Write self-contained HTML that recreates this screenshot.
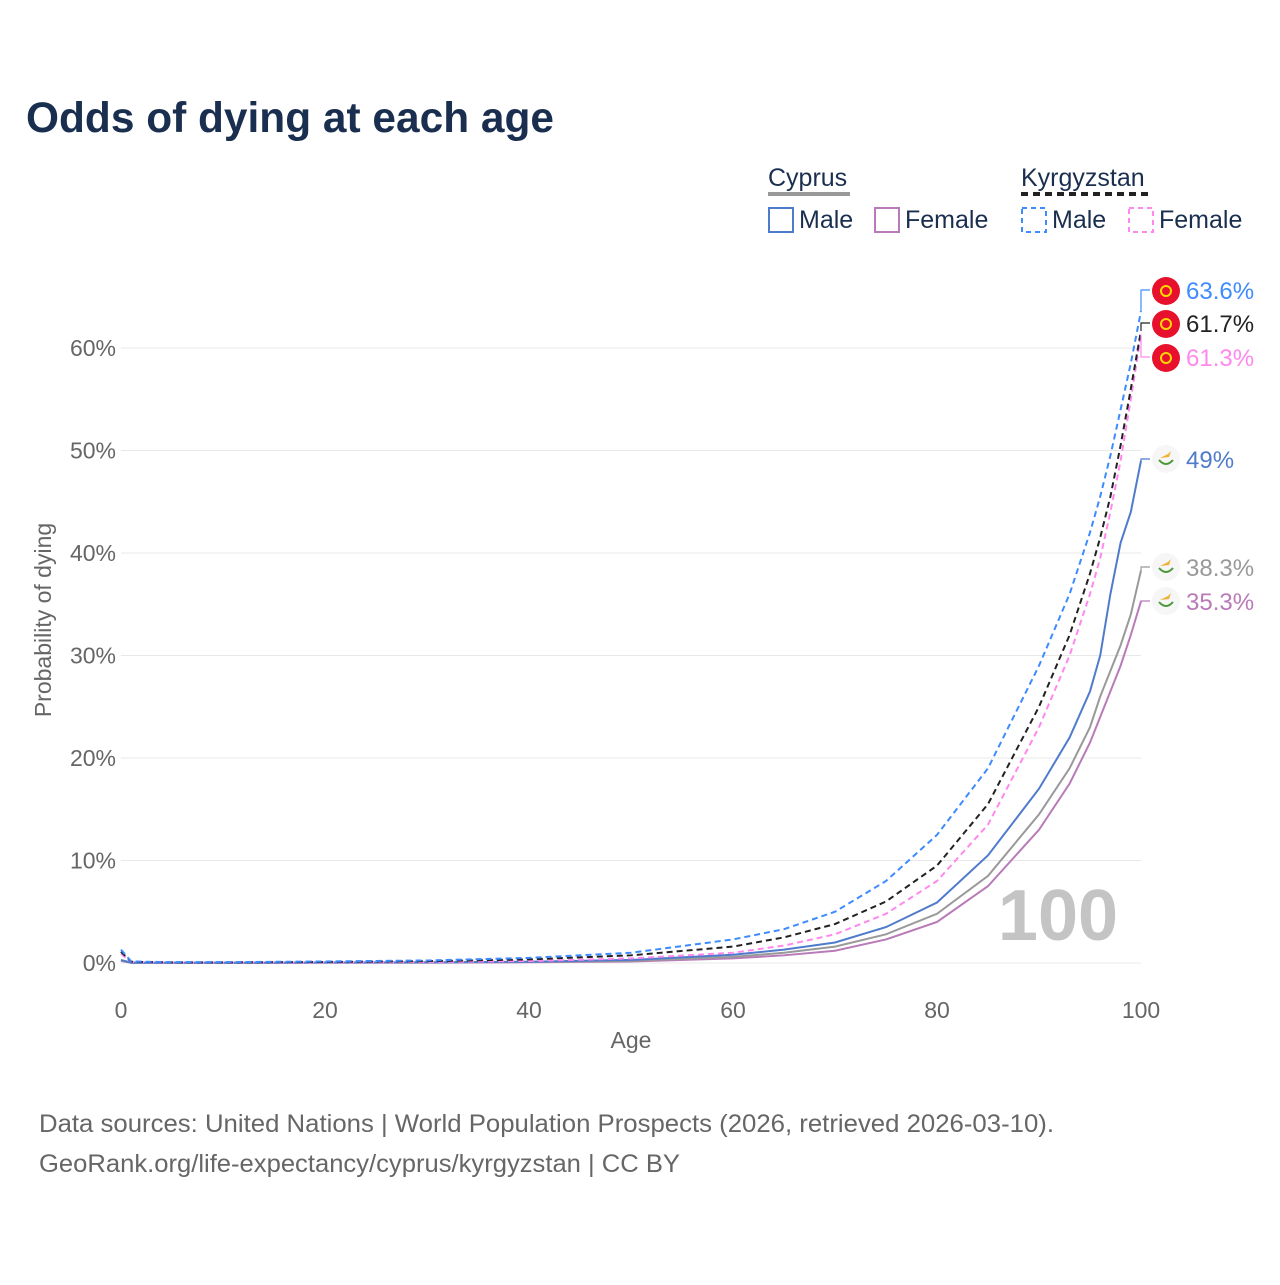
<!DOCTYPE html>
<html><head><meta charset="utf-8"><style>
body{margin:0;background:#fff;font-family:"Liberation Sans",sans-serif}
svg text{font-family:"Liberation Sans",sans-serif}
</style></head><body>
<svg width="1280" height="1280" xmlns="http://www.w3.org/2000/svg">
<text x="26" y="132" font-size="43" font-weight="bold" fill="#1a2f4f" textLength="528" lengthAdjust="spacingAndGlyphs">Odds of dying at each age</text>
<g font-size="25" fill="#1a2f4f">
<text x="768" y="186" fill="#1a2f4f">Cyprus</text>
<line x1="768" y1="194" x2="850" y2="194" stroke="#999" stroke-width="4"/>
<text x="1021" y="186" fill="#1a2f4f">Kyrgyzstan</text>
<line x1="1021" y1="194" x2="1149" y2="194" stroke="#222" stroke-width="4" stroke-dasharray="7,5"/>
<rect x="769" y="208" width="24" height="24" fill="none" stroke="#4f7bcc" stroke-width="2"/>
<text x="799" y="228" fill="#1a2f4f">Male</text>
<rect x="875" y="208" width="24" height="24" fill="none" stroke="#b87ab8" stroke-width="2"/>
<text x="905" y="228" fill="#1a2f4f">Female</text>
<rect x="1022" y="208" width="24" height="24" fill="none" stroke="#3d8bff" stroke-width="2" stroke-dasharray="5,4"/>
<text x="1052" y="228" fill="#1a2f4f">Male</text>
<rect x="1129" y="208" width="24" height="24" fill="none" stroke="#ff88ee" stroke-width="2" stroke-dasharray="5,4"/>
<text x="1159" y="228" fill="#1a2f4f">Female</text>
</g>
<g id="grid"></g>
<text x="1058" y="940" font-size="72" font-weight="bold" fill="#c4c4c4" text-anchor="middle">100</text>
<g id="series"></g>
<g id="labels"></g>
<text x="631" y="1048" font-size="23" fill="#666" text-anchor="middle">Age</text>
<text transform="translate(51,620) rotate(-90)" font-size="23" fill="#666" text-anchor="middle">Probability of dying</text>
<text x="39" y="1132" font-size="25" fill="#666" textLength="1015" lengthAdjust="spacingAndGlyphs">Data sources: United Nations | World Population Prospects (2026, retrieved 2026-03-10).</text>
<text x="39" y="1172" font-size="25" fill="#666" textLength="641" lengthAdjust="spacingAndGlyphs">GeoRank.org/life-expectancy/cyprus/kyrgyzstan | CC BY</text>
</svg>
<script>
const ages=[0,1,5,10,20,30,40,50,60,65,70,75,80,85,90,93,95,96,97,98,99,100];
const kgMale=[1.3,0.15,0.08,0.08,0.15,0.25,0.5,1.0,2.3,3.3,5,8,12.5,19,29,36,42,45.5,49.5,54,58.5,63.6];
const kgTotal=[1.1,0.12,0.06,0.06,0.1,0.18,0.35,0.75,1.6,2.5,3.8,6,9.5,15.5,25,32,38,41.5,45.5,50.5,56,61.7];
const kgFemale=[0.9,0.1,0.05,0.05,0.07,0.1,0.2,0.45,1.0,1.7,2.8,4.8,8,13.5,23,30,36,39.5,44,49,55,61.3];
const cyMale=[0.3,0.03,0.02,0.02,0.05,0.07,0.12,0.3,0.8,1.3,2,3.5,5.9,10.5,17,22,26.5,30,36,41,44,49];
const cyTotal=[0.25,0.03,0.02,0.02,0.04,0.05,0.1,0.22,0.6,1.0,1.6,2.8,4.8,8.5,14.5,19,23,26,28.5,31,34,38.3];
const cyFemale=[0.2,0.02,0.01,0.01,0.02,0.03,0.07,0.15,0.45,0.75,1.2,2.3,4,7.5,13,17.5,21.5,24,26.5,29,32,35.3];
const yTicks=[0,10,20,30,40,50,60];
const xTicks=[0,20,40,60,80,100];
const ns="http://www.w3.org/2000/svg";
const X=a=>121+a*10.2, Y=p=>963-p*10.25;
function mk(t,at,par){const e=document.createElementNS(ns,t);for(const k in at)e.setAttribute(k,at[k]);par.appendChild(e);return e;}
const g=document.getElementById('grid');
yTicks.forEach(v=>{
 const l=mk('line',{x1:121,x2:1141,y1:Y(v),y2:Y(v),stroke:'#e8e8e8','stroke-width':1},g);
 
 
 const t=mk('text',{x:116,y:Y(v)+8,'font-size':23,fill:'#666','text-anchor':'end'},g);t.textContent=v+'%';
 
 
});
xTicks.forEach(v=>{
 const t=mk('text',{x:X(v),y:1018,'font-size':23,fill:'#666','text-anchor':'middle'},g);t.textContent=v;
 
 
});
const series=[
 {d:cyFemale,c:'#b87ab8',dash:null,ly:601,lab:'35.3%',flag:'cy',n:'cyprus-female'},
 {d:cyTotal,c:'#999',dash:null,ly:567,lab:'38.3%',flag:'cy',n:'cyprus-total'},
 {d:cyMale,c:'#4f7bcc',dash:null,ly:459,lab:'49%',flag:'cy',n:'cyprus-male'},
 {d:kgFemale,c:'#ff88ee',dash:'6,4',ly:357,lab:'61.3%',flag:'kg',n:'kyrgyz-female'},
 {d:kgTotal,c:'#222',dash:'6,4',ly:323,lab:'61.7%',flag:'kg',n:'kyrgyz-total'},
 {d:kgMale,c:'#3d8bff',dash:'6,4',ly:290,lab:'63.6%',flag:'kg',n:'kyrgyz-male'}];
const sg=document.getElementById('series'),lg=document.getElementById('labels');
series.forEach(s=>{
 const pts=ages.map((a,i)=>X(a)+','+Y(s.d[i])).join(' ');
 const p=mk('polyline',{points:pts,fill:'none',stroke:s.c,'stroke-width':2},sg);
 if(s.dash)p.setAttribute('stroke-dasharray',s.dash);
 
 
 const ey=Y(s.d[s.d.length-1]);
 mk('polyline',{points:`1141,${ey} 1141,${s.ly} 1150,${s.ly}`,fill:'none',stroke:s.c,'stroke-width':1.2},lg);
 if(s.flag==='kg'){
  mk('circle',{cx:1166,cy:s.ly+1,r:14,fill:'#e8112d'},lg);
  mk('circle',{cx:1166,cy:s.ly+1,r:5,fill:'none',stroke:'#ffd700','stroke-width':2},lg);
 }else{
  mk('circle',{cx:1166,cy:s.ly,r:14,fill:'#f6f6f6'},lg);
  mk('path',{d:`M1160 ${s.ly-1} l8 -4 l3 -3 l-2 6 z`,fill:'#f0b030'},lg);
  mk('path',{d:`M1159 ${s.ly+1} q7 8 14 0`,fill:'none',stroke:'#4a9a3a','stroke-width':2},lg);
 }
 const t=mk('text',{x:1186,y:s.ly+9,'font-size':24,fill:s.c},lg);t.textContent=s.lab;
 
 
});
</script>
</body></html>
